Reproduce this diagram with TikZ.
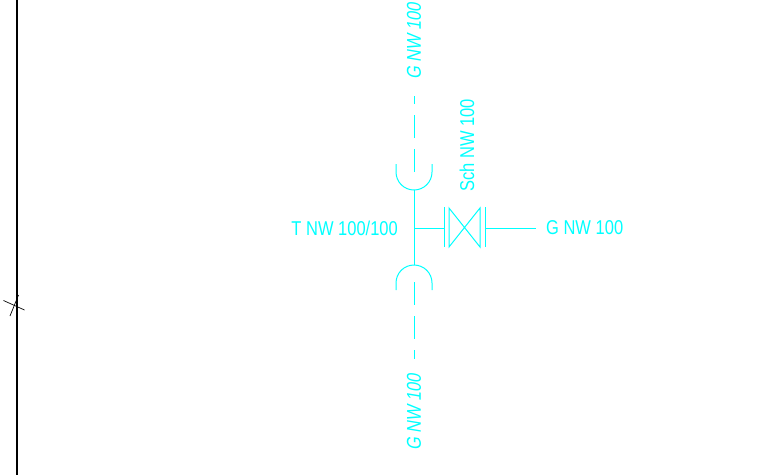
\documentclass[tikz,border=0pt]{standalone}
\usepackage{fontspec}
\setmainfont{Liberation Sans}
\usepackage{tikz}
\usetikzlibrary{positioning, calc}
\definecolor{pipecyan}{RGB}{0, 255, 255}

\begin{document}
\begin{tikzpicture}[x=1pt, y=-1pt,
    pipe/.style={draw=pipecyan, line width=1pt},
    pipedash/.style={pipe, dash pattern=on 23pt off 11pt},
    lbl/.style={text=pipecyan, font=\fontsize{20}{20}\selectfont, xscale=0.825, inner sep=0pt},
    lblit/.style={lbl, font=\fontsize{20}{20}\selectfont\addfontfeature{FakeSlant=0.2}}]
  \useasboundingbox (0,0) rectangle (765,475);
  \fill[white] (0,0) rectangle (765,475);

  % frame line and mark
  \coordinate (frametop) at (17,0);
  \coordinate (framebot) at (17,475);
  \draw[black, line width=1.6pt] (frametop) -- (framebot);
  \draw[black, line width=0.7pt] (3.5,300.5) -- (24.5,310);
  \draw[black, line width=0.7pt] (10,316) -- (18.5,295);

  % main pipe
  \coordinate (tee) at (414,228);
  \coordinate (cuptop) at (414,190);
  \coordinate (cupbot) at (414,265);
  \draw[pipe] (cuptop) -- (cupbot);
  \draw[pipe] (396,164) -- (396,172) arc[start angle=180, end angle=360, radius=18pt] -- (432,164);
  \draw[pipe] (396,290) -- (396,283) arc[start angle=180, end angle=0, radius=18pt] -- (432,290);

  % dashed ends
  \coordinate (dashtop) at (414,172);
  \coordinate (dashtopend) at (414,96);
  \coordinate (dashbot) at (414,282);
  \coordinate (dashbotend) at (414,359);
  \draw[pipedash] (dashtop) -- (dashtopend);
  \draw[pipedash] (dashbot) -- (dashbotend);

  % valve
  \coordinate (valveL) at (444,228);
  \coordinate (valveR) at (485,228);
  \coordinate (pipeend) at (536,228);
  \draw[pipe] (tee) -- (valveL);
  \draw[pipe] (valveR) -- (pipeend);
  \draw[pipe] (444,207) -- (444,247);
  \draw[pipe] (485,207) -- (485,247);
  \draw[pipe] (449,208) -- (449,247) -- (480,208) -- (480,247) -- cycle;

  % labels
  \node[lbl, anchor=east] (teelabel) at (398,228) {T NW 100/100};
  \node[lbl, anchor=west] (glabel) at (546,228) {G NW 100};
  \node[rotate=90, lbl, anchor=west] (schlabel) at (467,192) {Sch NW 100};
  \node[rotate=90, lblit, anchor=west] (gtoplabel) at (414,80) {G NW 100};
  \node[rotate=90, lblit, anchor=west] (gbotlabel) at (414,451) {G NW 100};
\end{tikzpicture}
\end{document}
